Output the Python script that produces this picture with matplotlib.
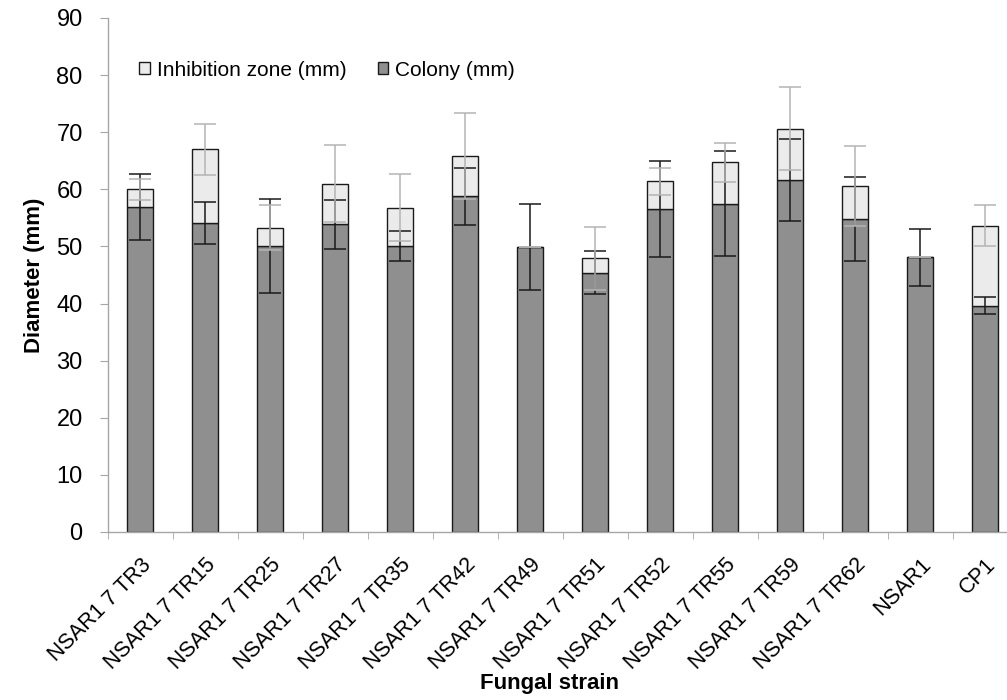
import numpy as np
import matplotlib
matplotlib.use("Agg")
from matplotlib import pyplot as plt

plt.rcParams['font.family'] = ['Liberation Sans', 'DejaVu Sans']

strains = ['NSAR1 7 TR3', 'NSAR1 7 TR15', 'NSAR1 7 TR25', 'NSAR1 7 TR27',
           'NSAR1 7 TR35', 'NSAR1 7 TR42', 'NSAR1 7 TR49', 'NSAR1 7 TR51',
           'NSAR1 7 TR52', 'NSAR1 7 TR55', 'NSAR1 7 TR59', 'NSAR1 7 TR62',
           'NSAR1', 'CP1']
colony = [56.9, 54.1, 50.1, 53.9, 50.1, 58.8, 49.9, 45.4, 56.6, 57.5, 61.6, 54.8, 48.1, 39.6]
colony_sd = [5.7, 3.6, 8.2, 4.3, 2.6, 5.0, 7.6, 3.8, 8.4, 9.2, 7.2, 7.4, 5.0, 1.5]
inhibition = [3.1, 12.9, 3.2, 7.1, 6.7, 7.0, 0.0, 2.5, 4.8, 7.2, 9.0, 5.8, 0.0, 14.0]
inhibition_sd = [1.8, 4.5, 4.0, 6.7, 5.8, 7.5, 0.0, 5.5, 2.4, 3.5, 7.3, 7.0, 0.0, 3.6]

x = np.arange(len(strains))
total = np.array(colony) + np.array(inhibition)

fig = plt.figure(figsize=(10.07, 7.0), dpi=100)
ax = fig.add_axes([107.7 / 1007, 168 / 700, 910 / 1007, 514 / 700])

b1 = ax.bar(x, colony, width=0.4, color='#8f8f8f', edgecolor='#1a1a1a', linewidth=1.0,
            label='Colony (mm)', zorder=2)
b2 = ax.bar(x, inhibition, width=0.4, bottom=colony, color='#ebebeb', edgecolor='#1a1a1a',
            linewidth=1.0, label='Inhibition zone (mm)', zorder=2)

# error bars: black for colony, grey for the inhibition zone
ax.errorbar(x, colony, yerr=colony_sd, fmt='none', ecolor='#1a1a1a', elinewidth=1.1,
            capsize=8, capthick=1.1, zorder=3)
ax.errorbar(x, total, yerr=inhibition_sd, fmt='none', ecolor='#b4b4b4', elinewidth=1.1,
            capsize=8, capthick=1.1, zorder=4)

ax.set_xlim(-0.5, len(strains) - 0.5)
ax.set_ylim(0, 90)
ax.set_yticks(range(0, 91, 10))
ax.set_xticks(x)
ax.set_xticklabels(strains, rotation=45, ha='right', va='top', rotation_mode='anchor', fontsize=15.5)
ax.set_xticks(np.arange(-0.5, len(strains), 1), minor=True)
ax.tick_params(axis='x', which='major', length=0, pad=16)
ax.tick_params(axis='x', which='minor', length=5, color='#a6a6a6', direction='out')
ax.tick_params(axis='y', length=6, color='#a6a6a6', labelsize=17, pad=12)

for s in ['top', 'right']:
    ax.spines[s].set_visible(False)
for s in ['left', 'bottom']:
    ax.spines[s].set_color('#a6a6a6')
    ax.spines[s].set_linewidth(1.0)

ax.set_ylabel('Diameter (mm)', fontsize=16, fontweight='bold', labelpad=8)
ax.set_xlabel('Fungal strain', fontsize=16, fontweight='bold')
ax.xaxis.set_label_coords(0.486, -0.294)
ax.xaxis.label.set_va('center')

ax.legend([b2, b1], ['Inhibition zone (mm)', 'Colony (mm)'], ncol=2, frameon=False,
          fontsize=15, handlelength=0.5, handleheight=0.5, handletextpad=0.33,
          columnspacing=1.5, loc='center left', bbox_to_anchor=(131 / 1007, 1 - 70 / 700),
          bbox_transform=fig.transFigure, borderaxespad=0)

fig.savefig('out.png', dpi=100)
